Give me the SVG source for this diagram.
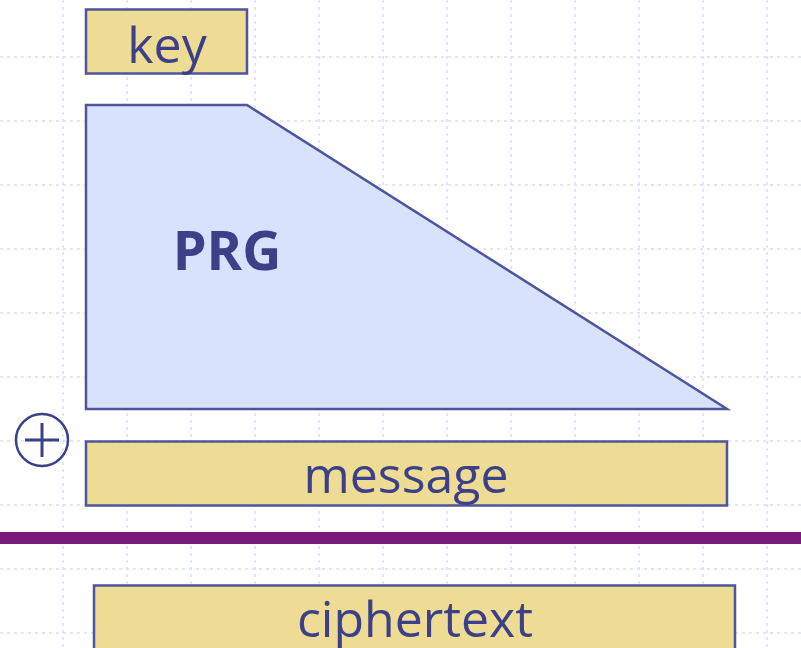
<svg xmlns="http://www.w3.org/2000/svg" width="801" height="648" viewBox="0 0 801 648">
<style>
.grid{stroke:#d6e0fc;stroke-width:1.5;stroke-dasharray:3 4;fill:none}
.box{fill:#eedc94;stroke:#4c559d;stroke-width:2.5}
.prg{fill:#d8e2fc;stroke:#4c559d;stroke-width:2.5;stroke-linejoin:miter}
.t{font-family:"Open Sans","Noto Sans",sans-serif;fill:#3c4088;text-anchor:middle}
</style>
<rect width="801" height="648" fill="#ffffff"/>
<g id="grid" class="grid">
<path d="M63 0V648M127 0V648M191 0V648M255 0V648M319 0V648M383 0V648M447 0V648M511 0V648M575 0V648M639 0V648M703 0V648M767 0V648"/>
<path d="M0 57H801M0 121H801M0 185H801M0 249H801M0 313H801M0 377H801M0 441H801M0 505H801M0 569H801M0 633H801"/>
</g>
<g id="key">
<rect class="box" x="86" y="9.5" width="161" height="64"/>
<text class="t" x="167" y="63" font-size="50">key</text>
</g>
<g id="prg">
<polygon class="prg" points="86,105 247,105 727,409 86,409"/>
<text class="t" x="227" y="270" font-size="54" font-weight="bold">PRG</text>
</g>
<g id="xor">
<circle cx="42" cy="440" r="26" fill="none" stroke="#3c4088" stroke-width="2.5"/>
<path d="M25 440H59M42 423V457" stroke="#3c4088" stroke-width="3"/>
</g>
<g id="message">
<rect class="box" x="86" y="441.5" width="641" height="64"/>
<text class="t" x="406" y="493" font-size="50">message</text>
</g>
<rect id="divider" x="0" y="532" width="801" height="12" fill="#7a1a78"/>
<g id="ciphertext">
<rect class="box" x="94" y="585.5" width="641" height="70"/>
<text class="t" x="415" y="637" font-size="50">ciphertext</text>
</g>
<g id="connectors"></g>
</svg>
